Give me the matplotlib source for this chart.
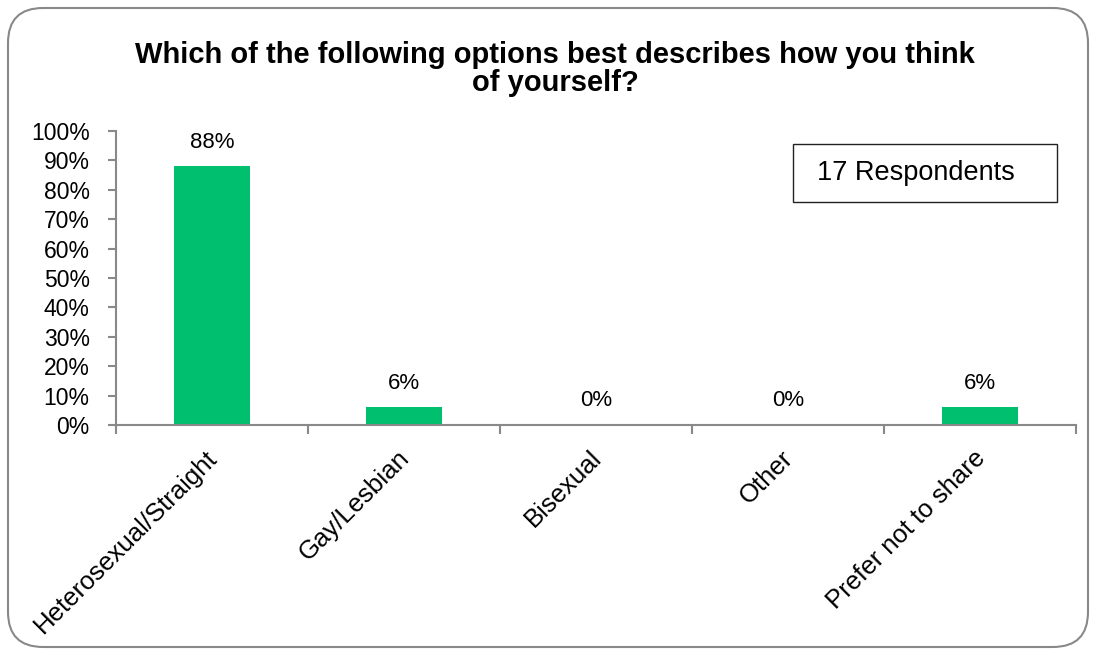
import matplotlib.pyplot as plt
from matplotlib.patches import FancyBboxPatch, Rectangle
from matplotlib.ticker import PercentFormatter

plt.rcParams["font.family"] = ["Liberation Sans", "DejaVu Sans"]

# Survey results
categories = ["Heterosexual/Straight", "Gay/Lesbian", "Bisexual", "Other", "Prefer not to share"]
shares = [88, 6, 0, 0, 6]
respondents = 17
title = "Which of the following options best describes how you think\nof yourself?"

BAR_COLOR = "#00BF6F"
AXIS_COLOR = "#898989"
W, H = 1096, 655

fig = plt.figure(figsize=(W / 100, H / 100), dpi=100)

# Rounded frame around the whole chart
frame = FancyBboxPatch(
    (8 / W, 8 / H), 1080 / W, 639 / H,
    boxstyle="round,pad=0,rounding_size=0.032",
    transform=fig.transFigure,
    facecolor="none", edgecolor=AXIS_COLOR, linewidth=1.5,
    mutation_aspect=W / H, zorder=-1,
)
fig.patches.append(frame)

ax = fig.add_axes([116 / W, 1 - 425 / H, 960 / W, 294 / H])
ax.set_facecolor("none")

x = list(range(len(categories)))
ax.bar(x, shares, width=0.4, color=BAR_COLOR, zorder=2)

for xi, v in zip(x, shares):
    ax.text(xi, v + 6.3, f"{v}%", ha="center", va="baseline", fontsize=16)

ax.set_xlim(-0.5, len(categories) - 0.5)
ax.set_ylim(0, 100)
ax.set_yticks(range(0, 101, 10))
ax.yaxis.set_major_formatter(PercentFormatter(decimals=0))

# Category ticks sit on the boundaries between bars, names go under each bar
ax.set_xticks([i - 0.5 for i in range(len(categories) + 1)])
ax.set_xticklabels([])
for xi, name in zip(x, categories):
    ax.annotate(name, xy=(xi, 0), xycoords=("data", "axes fraction"),
                xytext=(-5, -15), textcoords="offset points",
                rotation=45, ha="right", va="top", rotation_mode="anchor",
                fontsize=18.5)

ax.tick_params(axis="x", length=6.5, width=1.5, color=AXIS_COLOR)
ax.tick_params(axis="y", length=6, width=1.5, color=AXIS_COLOR, labelsize=16.5, pad=13)

for side in ("top", "right"):
    ax.spines[side].set_visible(False)
for side in ("left", "bottom"):
    ax.spines[side].set_color(AXIS_COLOR)
    ax.spines[side].set_linewidth(1.5)

fig.text(555 / W, 1 - 69 / H, title, ha="center", va="center", fontsize=21,
         fontweight="bold", linespacing=1.0)

# Respondent count box
fig.patches.append(Rectangle((793 / W, 1 - 202 / H), 264 / W, 58 / H,
                             transform=fig.transFigure, facecolor="white",
                             edgecolor="#222222", linewidth=1.0))
fig.text(916 / W, 1 - 180 / H, f"{respondents} Respondents",
         ha="center", va="baseline", fontsize=19.5)

fig.savefig("out.png", dpi=100)
